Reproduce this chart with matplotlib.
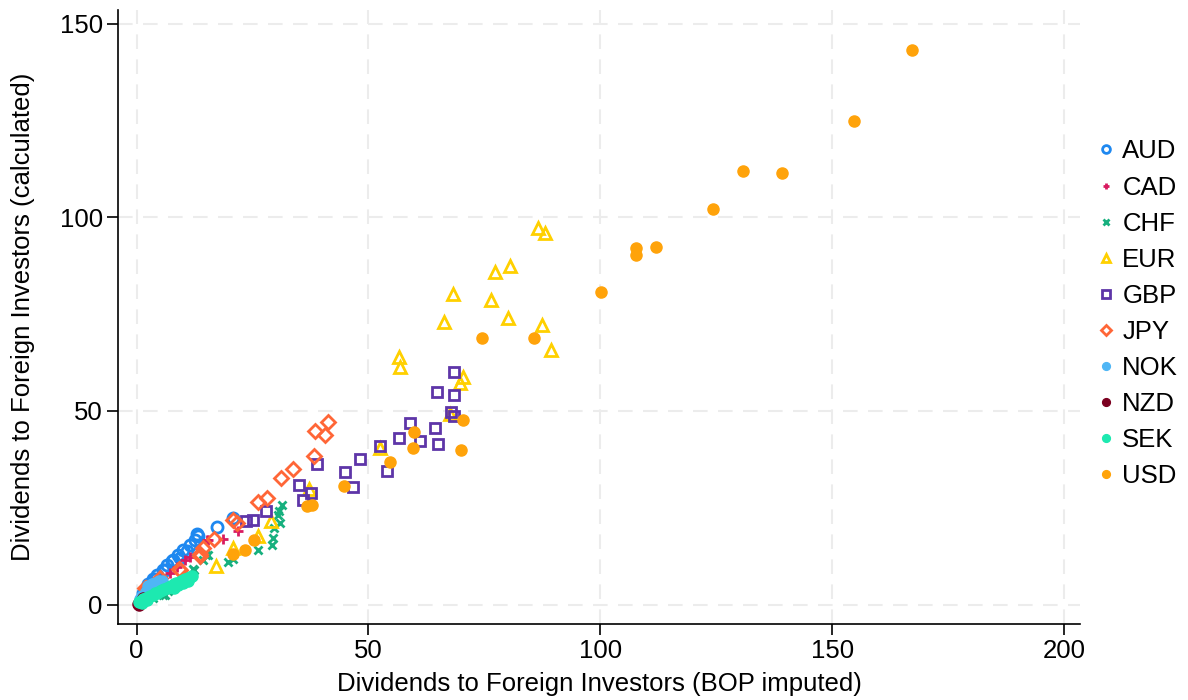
import matplotlib.pyplot as plt
import numpy as np

plt.rcParams['font.family'] = ['Liberation Sans', 'DejaVu Sans']

# Data (x = BOP imputed, y = calculated)
aud_x = [17.3, 13.1, 12.6, 11.5, 10.1, 9.0, 7.9, 6.5, 5.8, 4.4, 3.6, 2.5, 13.2, 10.9, 9.4, 7.6, 6.2, 4.0, 20.9, 1.5]
aud_y = [20.1, 18.3, 16.8, 15.5, 14.2, 12.9, 11.6, 10.3, 8.9, 7.7, 6.5, 5.4, 17.6, 13.8, 12.1, 11.2, 9.0, 6.5, 22.4, 3.0]

cad_x = [18.6, 21.8, 15.2, 11.5, 10.5, 8.7, 7.2, 5.4, 2.9, 15.4, 1.5]
cad_y = [17.0, 18.9, 16.6, 12.3, 11.6, 9.7, 8.2, 6.5, 4.3, 16.8, 2.0]

chf_x = [31.3, 30.8, 31.0, 29.7, 29.5, 29.2, 26.3, 20.7, 19.8, 15.0, 14.4, 30.6, 12.2, 5.8, 15.4, 12.3, 6.2, 6.8, 3.5]
chf_y = [25.6, 24.1, 21.1, 19.8, 17.2, 15.5, 14.2, 11.8, 11.0, 12.9, 11.6, 23.2, 9.2, 2.6, 12.9, 9.0, 2.6, 3.4, 1.8]

eur_x = [86.5, 88.0, 80.5, 77.4, 68.2, 76.4, 66.4, 80.0, 87.4, 89.4, 70.5, 69.7, 67.5,
         56.6, 56.9, 52.6, 37.2, 29.0, 26.1, 20.8, 17.2]
eur_y = [97.3, 96.0, 87.5, 85.8, 80.2, 78.6, 73.1, 74.0, 72.1, 65.8, 58.9, 57.1, 49.1,
         64.0, 61.4, 40.5, 29.9, 21.7, 17.6, 14.6, 9.9]

gbp_x = [68.4, 64.8, 68.5, 67.9, 68.5, 59.0, 64.3, 56.7, 61.2, 65.1, 52.4, 48.2, 45.0, 54.1,
         46.6, 38.9, 35.1, 37.7, 35.9, 27.9, 25.2, 23.6]
gbp_y = [60.0, 54.8, 54.1, 49.7, 48.8, 46.9, 45.7, 43.0, 42.3, 41.5, 40.9, 37.5, 34.3, 34.4,
         30.4, 36.4, 30.8, 28.8, 26.9, 24.1, 21.9, 21.5]

jpy_x = [41.3, 38.5, 40.7, 38.2, 33.8, 31.1, 28.1, 26.1, 21.6, 20.9, 16.7, 14.4, 13.6, 9.4, 5.1, 1.8, 13.7, 9.2, 2.1]
jpy_y = [47.2, 44.8, 43.9, 38.3, 34.9, 32.7, 27.5, 26.4, 21.1, 21.8, 17.0, 14.6, 13.1, 9.0, 6.9, 4.3, 12.5, 9.2, 4.2]

nok_x = [2.5, 3.3, 1.2, 2.0, 4.0, 4.8, 5.5, 0.8]
nok_y = [4.7, 5.2, 2.2, 3.3, 5.6, 6.0, 6.2, 1.5]

nzd_x = [0.3, 0.5, 0.8, 1.0, 1.2, 1.5, 0.6]
nzd_y = [0.2, 0.4, 0.8, 1.0, 1.3, 1.6, 0.0]

sek_x = [0.5, 1.0, 1.5, 2.0, 2.5, 3.0, 3.5, 4.0, 4.5, 5.0, 5.5, 6.0, 6.5, 7.0, 7.5, 8.0,
         8.5, 9.0, 9.5, 10.0, 10.5, 11.0, 11.5, 12.0, 11.0, 10.0, 9.0, 8.0, 1.2, 2.2]
sek_y = [0.6, 1.0, 1.4, 1.7, 2.0, 2.3, 2.6, 2.9, 3.1, 3.4, 3.7, 4.0, 4.3, 4.6, 4.9, 5.2,
         5.5, 5.7, 6.0, 6.3, 6.6, 6.9, 7.2, 7.5, 6.0, 5.5, 5.0, 4.4, 0.5, 1.2]

usd_x = [167.2, 154.8, 130.7, 139.1, 124.4, 112.1, 107.6, 107.8, 100.2, 74.4, 85.8, 70.3, 70.0,
         59.9, 59.7, 54.7, 44.8, 36.7, 37.8, 25.4, 23.3, 20.8]
usd_y = [143.3, 125.0, 112.1, 111.5, 102.2, 92.4, 92.2, 90.4, 80.8, 68.9, 68.9, 47.8, 40.0,
         44.7, 40.5, 36.9, 30.7, 25.4, 25.6, 16.8, 14.1, 13.2]

# label, x, y, marker, color, filled, size
series = [
    ('AUD', aud_x, aud_y, 'o', '#1E88F0', False, 8),
    ('CAD', cad_x, cad_y, '+', '#D81B60', False, 7),
    ('CHF', chf_x, chf_y, 'x', '#17B07E', False, 5.5),
    ('EUR', eur_x, eur_y, '^', '#FFD000', False, 8),
    ('GBP', gbp_x, gbp_y, 's', '#5E35A8', False, 7.5),
    ('JPY', jpy_x, jpy_y, 'D', '#FF6637', False, 7),
    ('NOK', nok_x, nok_y, 'o', '#4FB6F5', True, 8),
    ('NZD', nzd_x, nzd_y, 'o', '#7B0020', True, 8),
    ('SEK', sek_x, sek_y, 'o', '#1DE9B0', True, 8),
    ('USD', usd_x, usd_y, 'o', '#FFA30A', True, 8),
]

FS = 18.5

fig = plt.figure(figsize=(11.88, 7.0), dpi=100)
ax = fig.add_axes([0.0993, 0.1086, 0.81, 0.8774])

for name, xs, ys, mk, col, filled, ms in series:
    if filled:
        ax.plot(xs, ys, linestyle='none', marker=mk, markersize=ms,
                markerfacecolor=col, markeredgecolor=col, label=name)
    elif mk in ('+', 'x'):
        ax.plot(xs, ys, linestyle='none', marker=mk, markersize=ms,
                color=col, markeredgewidth=2.0, label=name)
    else:
        ax.plot(xs, ys, linestyle='none', marker=mk, markersize=ms,
                markerfacecolor='none', markeredgecolor=col, markeredgewidth=2.0, label=name)

ax.set_xlim(-4, 203.5)
ax.set_ylim(-5, 153.6)
ax.set_xticks([0, 50, 100, 150, 200])
ax.set_yticks([0, 50, 100, 150])
ax.grid(True, color='#ececec', linestyle=(0, (7, 5)), linewidth=1.5)
ax.set_axisbelow(True)

for s in ['top', 'right']:
    ax.spines[s].set_visible(False)
for s in ['left', 'bottom']:
    ax.spines[s].set_linewidth(1.2)
ax.tick_params(direction='out', length=8, width=1.2, labelsize=FS, pad=3)

ax.set_xlabel('Dividends to Foreign Investors (BOP imputed)', fontsize=FS, labelpad=6)
ax.set_ylabel('Dividends to Foreign Investors (calculated)', fontsize=FS, labelpad=18)

ax.legend(loc='center left', bbox_to_anchor=(0.997, 0.505), frameon=False,
          fontsize=FS, markerscale=0.7, handlelength=0.8, handletextpad=0.25,
          labelspacing=0.47, borderaxespad=0.3)

fig.savefig('out.png', dpi=100)
